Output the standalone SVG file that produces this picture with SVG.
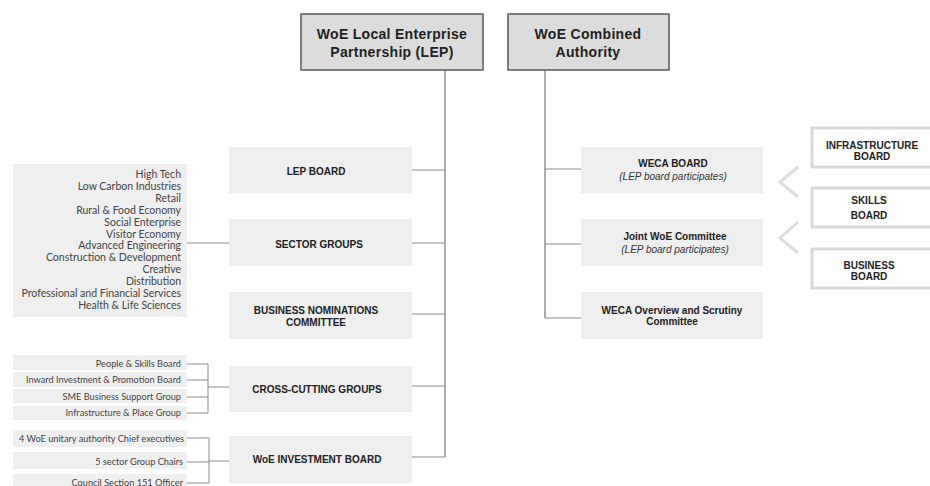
<svg xmlns="http://www.w3.org/2000/svg" width="930" height="486" viewBox="0 0 930 486">
<style>
.hdr{fill:#dcdcdc;stroke:#5a5a5a;stroke-width:1.5}
.box{fill:#eeeeee}
.lst{fill:#efefef}
.ext{fill:none;stroke:#d9d9d9;stroke-width:3}
.chev{fill:none;stroke:#dcdcdc;stroke-width:3}
.con{fill:none;stroke:#8a8a8a;stroke-width:1}
.vcon{fill:none;stroke:#777;stroke-width:1.2}
.ht{font-family:"Liberation Sans",Arial,sans-serif;font-weight:bold;font-size:14px;letter-spacing:0.3px;fill:#222;text-anchor:middle}
.bt{font-family:"Liberation Sans",Arial,sans-serif;font-weight:bold;font-size:10px;fill:#222;text-anchor:middle}
.it{font-family:"Liberation Sans",Arial,sans-serif;font-style:italic;font-size:10px;fill:#333;text-anchor:middle}
.lt{font-family:Lato,"Open Sans",sans-serif;font-size:10.5px;fill:#444;text-anchor:end}
.st{font-family:Lato,"Open Sans",sans-serif;font-size:9.2px;fill:#444;text-anchor:end}
</style>

<g id="connectors">
<polyline class="vcon" points="445,70 445,457"/>
<polyline class="con" points="412,170 445,170"/>
<polyline class="con" points="412,243 445,243"/>
<polyline class="con" points="412,314 445,314"/>
<polyline class="con" points="412,386 445,386"/>
<polyline class="con" points="412,457 445,457"/>
<polyline class="vcon" points="545,70 545,318"/>
<polyline class="con" points="545,169 581,169"/>
<polyline class="con" points="545,244 581,244"/>
<polyline class="con" points="545,318 581,318"/>
<polyline class="con" points="187,243 229,243"/>
<polyline class="con" points="187,364 208,364 208,413 187,413"/>
<polyline class="con" points="187,380 208,380"/>
<polyline class="con" points="187,397 208,397"/>
<polyline class="con" points="208,387 229,387"/>
<polyline class="con" points="185,438 209,438 209,483 187,483"/>
<polyline class="con" points="187,462 209,462"/>
<polyline class="con" points="209,461 229,461"/>
<polyline class="chev" points="798,167 780,182 798,197"/>
<polyline class="chev" points="798,222 780,238 798,253"/>
</g>

<g id="lep">
<rect class="hdr" x="301" y="14" width="182" height="56"/>
<text class="ht" x="392" y="39">WoE Local Enterprise</text>
<text class="ht" x="392" y="57">Partnership (LEP)</text>
</g>
<g id="ca">
<rect class="hdr" x="508" y="14" width="161" height="56"/>
<text class="ht" x="588" y="39">WoE Combined</text>
<text class="ht" x="588" y="57">Authority</text>
</g>

<g id="lep-board">
<rect class="box" x="229" y="147" width="183" height="46"/>
<text class="bt" x="316" y="175">LEP BOARD</text>
</g>
<g id="sector-groups">
<rect class="box" x="229" y="219" width="183" height="47"/>
<text class="bt" x="319" y="247.5">SECTOR GROUPS</text>
</g>
<g id="business-nominations">
<rect class="box" x="229" y="292" width="183" height="47"/>
<text class="bt" x="316" y="313.5">BUSINESS NOMINATIONS</text>
<text class="bt" x="316" y="326">COMMITTEE</text>
</g>
<g id="cross-cutting">
<rect class="box" x="229" y="366" width="183" height="46"/>
<text class="bt" x="317" y="392.5">CROSS-CUTTING GROUPS</text>
</g>
<g id="investment-board">
<rect class="box" x="229" y="436" width="183" height="47"/>
<text class="bt" x="317" y="462.5">WoE INVESTMENT BOARD</text>
</g>

<g id="weca-board">
<rect class="box" x="581" y="147" width="182" height="46"/>
<text class="bt" x="673" y="167">WECA BOARD</text>
<text class="it" x="673" y="179.5">(LEP board participates)</text>
</g>
<g id="joint-committee">
<rect class="box" x="581" y="219" width="182" height="47"/>
<text class="bt" x="675" y="240">Joint WoE Committee</text>
<text class="it" x="675" y="252.5">(LEP board participates)</text>
</g>
<g id="weca-overview">
<rect class="box" x="581" y="292" width="182" height="47"/>
<text class="bt" x="672" y="313.5">WECA Overview and Scrutiny</text>
<text class="bt" x="672" y="325">Committee</text>
</g>

<g id="infrastructure-board">
<polyline class="ext" points="931,128 812,128 812,167 931,167"/>
<text class="bt" x="872" y="148.5">INFRASTRUCTURE</text>
<text class="bt" x="872" y="159.5">BOARD</text>
</g>
<g id="skills-board">
<polyline class="ext" points="931,188 812,188 812,227 931,227"/>
<text class="bt" x="869" y="203.5">SKILLS</text>
<text class="bt" x="869" y="218.5">BOARD</text>
</g>
<g id="business-board">
<polyline class="ext" points="931,249 812,249 812,288 931,288"/>
<text class="bt" x="869" y="268.5">BUSINESS</text>
<text class="bt" x="869" y="279.5">BOARD</text>
</g>

<g id="sector-list">
<rect class="lst" x="13" y="164" width="174" height="153"/>
<text class="lt" x="181" y="178">High Tech</text>
<text class="lt" x="181" y="189.9">Low Carbon Industries</text>
<text class="lt" x="181" y="201.8">Retail</text>
<text class="lt" x="181" y="213.7">Rural &amp; Food Economy</text>
<text class="lt" x="181" y="225.6">Social Enterprise</text>
<text class="lt" x="181" y="237.5">Visitor Economy</text>
<text class="lt" x="181" y="249.4">Advanced Engineering</text>
<text class="lt" x="181" y="261.3">Construction &amp; Development</text>
<text class="lt" x="181" y="273.2">Creative</text>
<text class="lt" x="181" y="285.1">Distribution</text>
<text class="lt" x="181" y="297">Professional and Financial Services</text>
<text class="lt" x="181" y="308.9">Health &amp; Life Sciences</text>
</g>

<g id="people-skills">
<rect class="lst" x="13" y="355" width="174" height="15"/>
<text class="st" x="181" y="367">People &amp; Skills Board</text>
</g>
<g id="inward-investment">
<rect class="lst" x="13" y="372" width="174" height="15"/>
<text class="st" x="181" y="383">Inward Investment &amp; Promotion Board</text>
</g>
<g id="sme-support">
<rect class="lst" x="13" y="389" width="174" height="14"/>
<text class="st" x="181" y="399.5">SME Business Support Group</text>
</g>
<g id="infrastructure-place">
<rect class="lst" x="13" y="406" width="174" height="14"/>
<text class="st" x="181" y="416">Infrastructure &amp; Place Group</text>
</g>

<g id="chief-executives">
<rect class="lst" x="13" y="430" width="174" height="17"/>
<text class="st" x="184" y="442">4 WoE unitary authority Chief executives</text>
</g>
<g id="sector-chairs">
<rect class="lst" x="13" y="452" width="174" height="17"/>
<text class="st" x="183" y="465">5 sector Group Chairs</text>
</g>
<g id="section-151">
<rect class="lst" x="13" y="474" width="174" height="14"/>
<text class="st" x="183" y="485.5">Council Section 151 Officer</text>
</g>
</svg>
